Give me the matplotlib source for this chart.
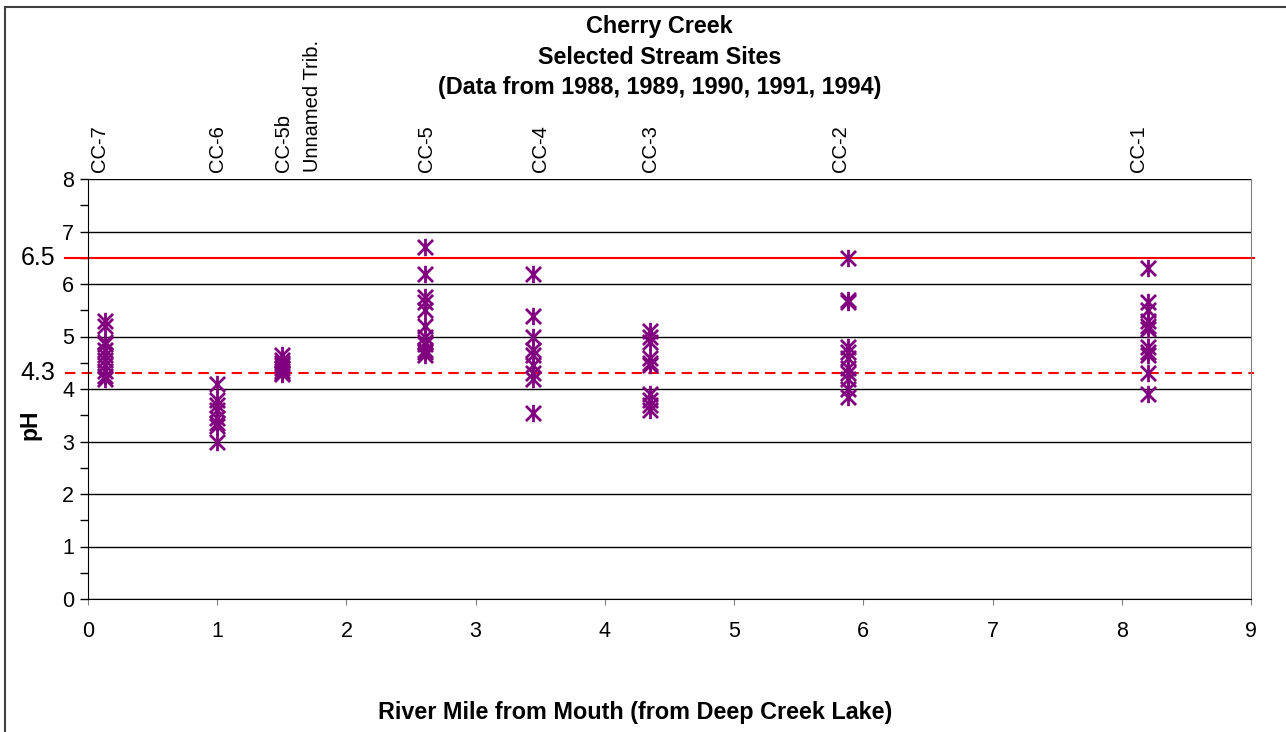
import matplotlib
matplotlib.use("Agg")
import matplotlib.pyplot as plt
from matplotlib.patches import Rectangle
from matplotlib.path import Path
from matplotlib.transforms import offset_copy

plt.rcParams['font.family'] = ['Liberation Sans', 'DejaVu Sans']

# site name, river mile, pH values
sites = ['CC-7', 'CC-6', 'CC-5b', 'Unnamed Trib.', 'CC-5', 'CC-4', 'CC-3', 'CC-2', 'CC-1']
miles = [0.13, 1.0, 1.5, 1.74, 2.61, 3.44, 4.35, 5.88, 8.2]
label_pos = [0.09, 1.0, 1.51, 1.74, 2.62, 3.5, 4.35, 5.82, 8.13]
ph_cc7 = [5.3, 5.2, 4.9, 4.85, 4.75, 4.65, 4.55, 4.45, 4.35, 4.25, 4.2]
ph_cc6 = [4.1, 3.8, 3.7, 3.6, 3.45, 3.35, 3.3, 3.0]
ph_cc5b = [4.65, 4.55, 4.5, 4.45, 4.4, 4.35, 4.3, 4.28]
ph_trib = []
ph_cc5 = [6.7, 6.2, 5.75, 5.65, 5.5, 5.2, 5.0, 4.9, 4.85, 4.75, 4.7, 4.65]
ph_cc4 = [6.2, 5.4, 5.0, 4.75, 4.65, 4.45, 4.3, 4.2, 3.55]
ph_cc3 = [5.1, 5.0, 4.9, 4.6, 4.5, 4.45, 3.9, 3.8, 3.7, 3.6]
ph_cc2 = [6.5, 5.7, 5.65, 4.8, 4.7, 4.6, 4.4, 4.3, 4.2, 4.0, 3.85]
ph_cc1 = [6.3, 5.65, 5.5, 5.3, 5.2, 5.15, 4.8, 4.7, 4.65, 4.3, 3.9]
ph_values = [ph_cc7, ph_cc6, ph_cc5b, ph_trib, ph_cc5, ph_cc4, ph_cc3, ph_cc2, ph_cc1]

upper_ref = 6.5
lower_ref = 4.3

# Excel-style star: an X with a vertical bar
star = Path([(-1, -1), (1, 1), (-1, 1), (1, -1), (0, -1.15), (0, 1.15)],
            [Path.MOVETO, Path.LINETO, Path.MOVETO, Path.LINETO,
             Path.MOVETO, Path.LINETO])

fig = plt.figure(figsize=(12.86, 7.32), dpi=100)
ax = fig.add_axes([88 / 1286, 1 - 599 / 732, 1163 / 1286, 420 / 732])

for m, vals in zip(miles, ph_values):
    if vals:
        ax.plot([m] * len(vals), vals, linestyle='none', marker=star,
                markersize=12.5, markeredgewidth=2, color='#800080', zorder=3)

ax.set_xlim(0, 9)
ax.set_ylim(0, 8)
ax.set_xticks(range(0, 10))
ax.set_yticks(range(0, 9))
ax.set_yticks([i + 0.5 for i in range(8)], minor=True)
ax.yaxis.grid(True, color='black', linewidth=1)
ax.set_axisbelow(True)
ax.tick_params(axis='y', which='both', length=6, width=1, direction='out',
               labelsize=15.5, pad=4)
ax.tick_params(axis='x', length=4, color='gray', labelsize=15.5, pad=12)
ax.spines['top'].set_visible(False)
ax.spines['right'].set_color('gray')
ax.spines['bottom'].set_color('black')

# reference lines
ax.axhline(upper_ref, xmin=-0.02, xmax=1.003, color='red', linewidth=1.5,
           clip_on=False, zorder=2)
ax.axhline(lower_ref, xmin=-0.02, xmax=1.003, color='red', linewidth=1.5,
           linestyle=(0, (5, 3)), clip_on=False, zorder=2)
ytr = ax.get_yaxis_transform()
ax.text(-0.028, upper_ref, f'{upper_ref}', transform=ytr, ha='right',
        va='center', fontsize=18)
ax.text(-0.028, lower_ref, f'{lower_ref}', transform=ytr, ha='right',
        va='center', fontsize=18)

# site labels
xtr = offset_copy(ax.get_xaxis_transform(), fig=fig, x=0, y=7, units='dots')
for name, p in zip(sites, label_pos):
    ax.text(p, 1.0, name, transform=xtr, rotation=90, ha='center',
            va='bottom', fontsize=14.5)

fig.text(0.513, 1 - 15 / 732,
         'Cherry Creek\nSelected Stream Sites\n(Data from 1988, 1989, 1990, 1991, 1994)',
         ha='center', va='top', fontsize=16.8, fontweight='bold', linespacing=1.42)
fig.text(635 / 1286, 1 - 712 / 732, 'River Mile from Mouth (from Deep Creek Lake)',
         ha='center', va='center', fontsize=16.8, fontweight='bold')
fig.text(30 / 1286, 1 - 425 / 732, 'pH', ha='center', va='center',
         rotation=90, fontsize=16.5, fontweight='bold')

fig.patches.append(Rectangle((5 / 1286, -0.05), 1.2, 1 - 7 / 732 + 0.05,
                             transform=fig.transFigure, fill=False,
                             edgecolor='#404040', linewidth=1.5))

fig.savefig('out.png', dpi=100)
